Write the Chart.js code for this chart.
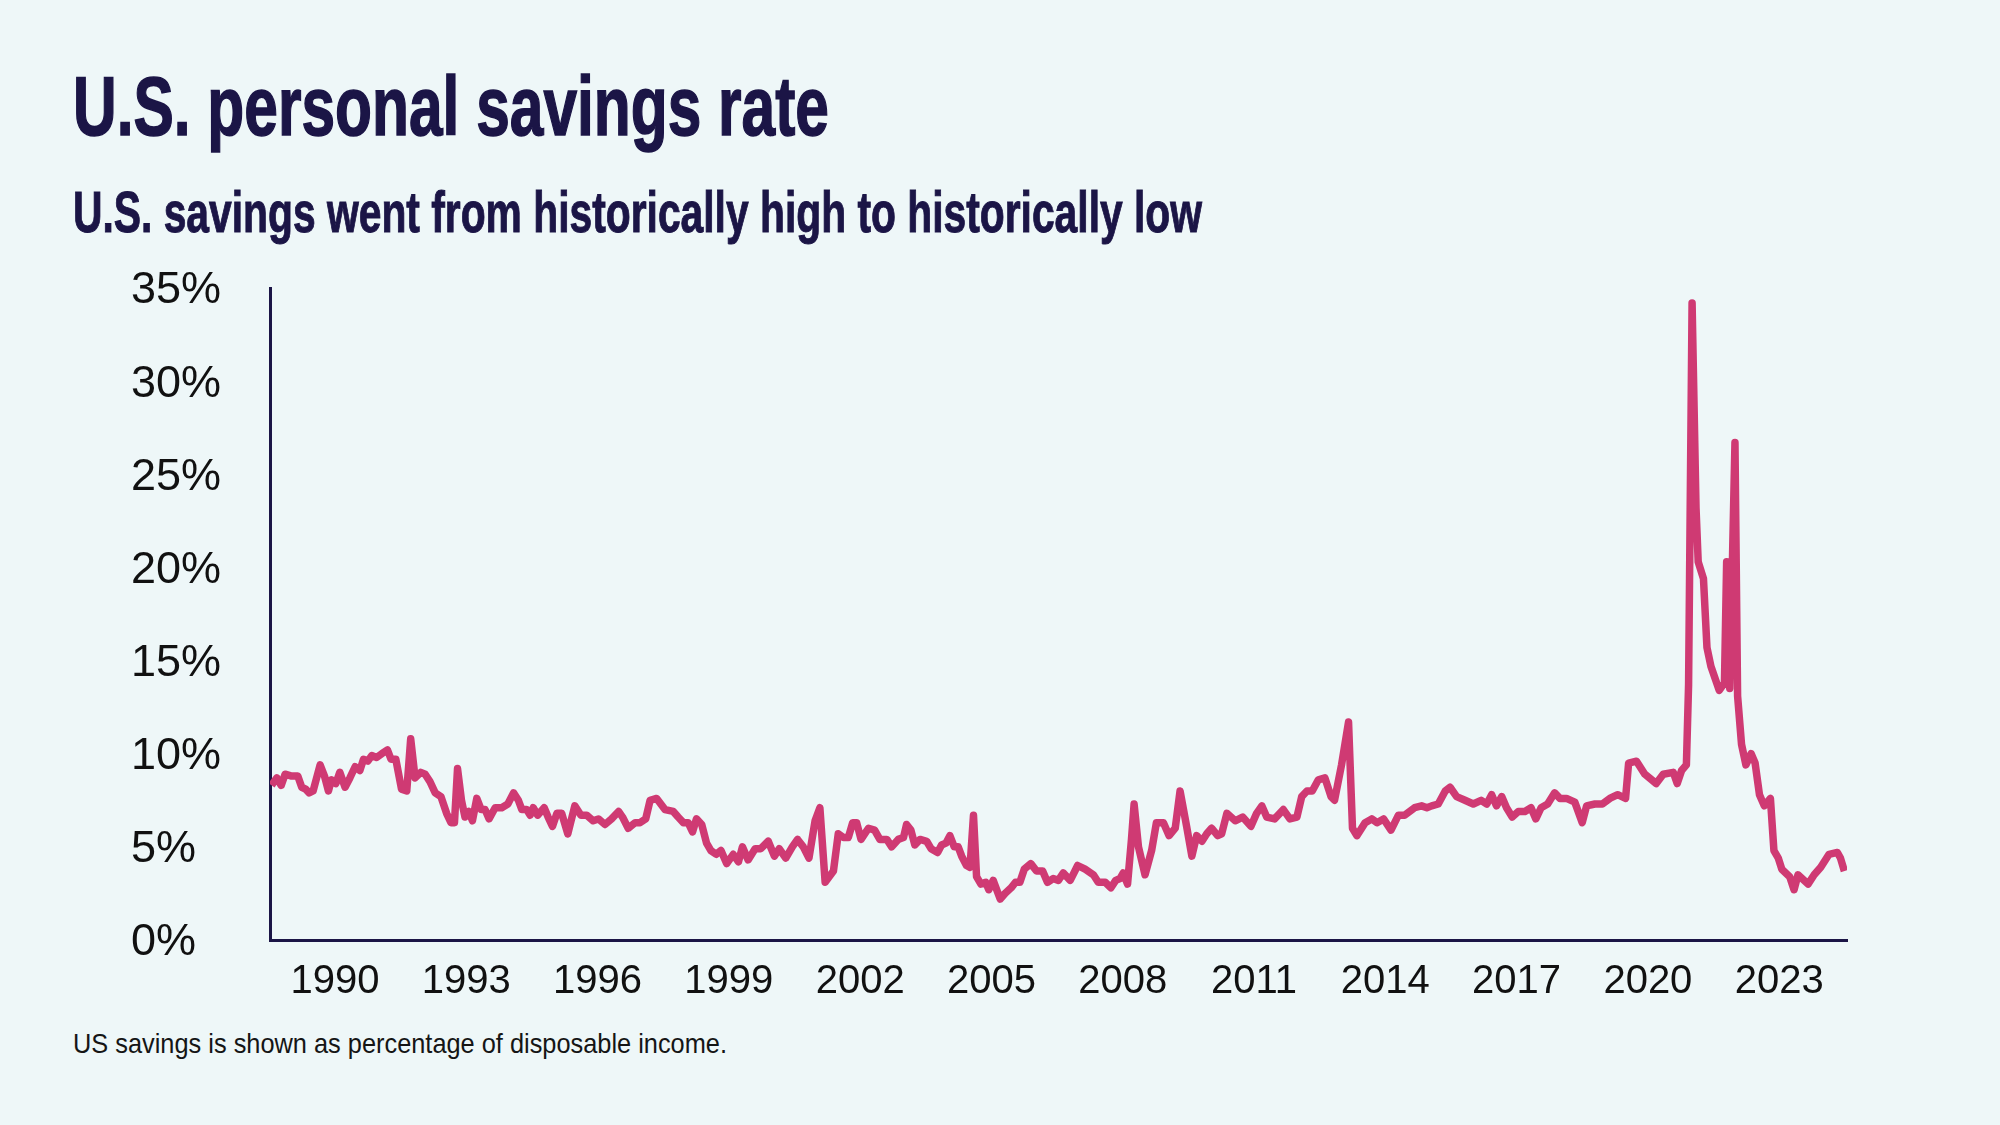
<!DOCTYPE html>
<html>
<head>
<meta charset="utf-8">
<title>U.S. personal savings rate</title>
<script src="https://cdn.jsdelivr.net/npm/chart.js@4.4.1/dist/chart.umd.min.js"></script>
<style>
  html, body { margin: 0; padding: 0; }
  body { width: 2000px; height: 1125px; background: #eef7f8; position: relative; overflow: hidden; }
  .txt { position: absolute; left: 73px; margin: 0; white-space: nowrap; display: inline-block; line-height: 1; transform-origin: left top; }
  #title { top: 58px; font: bold 84px "Liberation Sans Narrow", "Liberation Sans", sans-serif; color: #1b1546; -webkit-text-stroke: 1.5px #1b1546; }
  #subtitle { top: 179px; font: bold 57px "Liberation Sans Narrow", "Liberation Sans", sans-serif; color: #1b1546; -webkit-text-stroke: 1px #1b1546; }
  #note { top: 1028px; font: 28px "Liberation Sans Narrow", "Liberation Sans", sans-serif; color: #151515; }
  #chart { position: absolute; left: 0; top: 250px; }
</style>
</head>
<body>
<h1 class="txt" id="title">U.S. personal savings rate</h1>
<h2 class="txt" id="subtitle">U.S. savings went from historically high to historically low</h2>
<div class="txt" id="note">US savings is shown as percentage of disposable income.</div>
<canvas id="chart" width="2000" height="770"></canvas>
<script>
// dates as decimal years
const dates = [
  1988.55, 1988.67, 1988.77, 1988.86, 1989.01, 1989.15, 1989.24, 1989.33, 1989.41, 1989.50,
  1989.66, 1989.76, 1989.85, 1989.92, 1990.02, 1990.11, 1990.23, 1990.34, 1990.46, 1990.57,
  1990.65, 1990.75, 1990.84, 1990.95, 1991.07, 1991.20, 1991.28, 1991.39, 1991.52, 1991.64,
  1991.73, 1991.83, 1991.96, 1992.06, 1992.17, 1992.29, 1992.42, 1992.55, 1992.65, 1992.73,
  1992.80, 1992.89, 1992.97, 1993.06, 1993.14, 1993.24, 1993.34, 1993.43, 1993.52, 1993.66,
  1993.81, 1993.95, 1994.08, 1994.19, 1994.27, 1994.38, 1994.46, 1994.53, 1994.63, 1994.78,
  1994.87, 1994.97, 1995.07, 1995.18, 1995.32, 1995.48, 1995.62, 1995.75, 1995.90, 1996.02,
  1996.17, 1996.32, 1996.48, 1996.57, 1996.70, 1996.86, 1996.97, 1997.10, 1997.20, 1997.35,
  1997.54, 1997.73, 1997.84, 1997.96, 1998.07, 1998.17, 1998.26, 1998.38, 1998.49, 1998.59,
  1998.71, 1998.82, 1998.95, 1999.10, 1999.22, 1999.31, 1999.44, 1999.60, 1999.73, 1999.90,
  2000.04, 2000.15, 2000.30, 2000.45, 2000.57, 2000.70, 2000.83, 2000.97, 2001.08, 2001.20,
  2001.39, 2001.50, 2001.62, 2001.73, 2001.83, 2001.92, 2002.02, 2002.19, 2002.33, 2002.45,
  2002.61, 2002.72, 2002.87, 2002.99, 2003.06, 2003.16, 2003.25, 2003.37, 2003.52, 2003.62,
  2003.77, 2003.86, 2003.96, 2004.05, 2004.15, 2004.24, 2004.32, 2004.43, 2004.51, 2004.59,
  2004.66, 2004.76, 2004.87, 2004.94, 2005.04, 2005.20, 2005.31, 2005.45, 2005.55, 2005.65,
  2005.75, 2005.90, 2006.03, 2006.17, 2006.28, 2006.41, 2006.53, 2006.64, 2006.80, 2006.97,
  2007.14, 2007.33, 2007.44, 2007.60, 2007.73, 2007.84, 2007.94, 2008.01, 2008.11, 2008.20,
  2008.26, 2008.36, 2008.51, 2008.66, 2008.77, 2008.93, 2009.06, 2009.20, 2009.31, 2009.46,
  2009.58, 2009.69, 2009.81, 2009.92, 2010.03, 2010.17, 2010.26, 2010.38, 2010.57, 2010.74,
  2010.93, 2011.06, 2011.18, 2011.29, 2011.47, 2011.67, 2011.82, 2011.98, 2012.09, 2012.21,
  2012.33, 2012.47, 2012.62, 2012.76, 2012.84, 2013.00, 2013.16, 2013.25, 2013.35, 2013.54,
  2013.69, 2013.81, 2013.96, 2014.13, 2014.30, 2014.44, 2014.67, 2014.83, 2014.95, 2015.06,
  2015.21, 2015.37, 2015.48, 2015.63, 2015.82, 2016.01, 2016.19, 2016.32, 2016.43, 2016.54,
  2016.66, 2016.77, 2016.90, 2017.04, 2017.19, 2017.33, 2017.44, 2017.56, 2017.71, 2017.87,
  2017.99, 2018.14, 2018.33, 2018.50, 2018.60, 2018.79, 2018.96, 2019.13, 2019.31, 2019.49,
  2019.56, 2019.74, 2019.93, 2020.19, 2020.35, 2020.58, 2020.67, 2020.77, 2020.88, 2020.93,
  2021.01, 2021.10, 2021.15, 2021.27, 2021.35, 2021.44, 2021.63, 2021.75, 2021.80, 2021.87,
  2021.99, 2022.05, 2022.14, 2022.24, 2022.36, 2022.45, 2022.55, 2022.66, 2022.80, 2022.88,
  2022.98, 2023.06, 2023.24, 2023.34, 2023.43, 2023.66, 2023.80, 2023.95, 2024.14, 2024.33,
  2024.40, 2024.49
];

// savings rate, % of disposable income
const savingsRate = [
  8.3, 8.7, 8.3, 8.9, 8.8, 8.8, 8.2, 8.1, 7.9, 8.0,
  9.4, 8.8, 8.0, 8.6, 8.4, 9.0, 8.2, 8.7, 9.3, 9.1,
  9.7, 9.6, 9.9, 9.8, 10.0, 10.2, 9.7, 9.7, 8.1, 8.0,
  10.8, 8.7, 9.0, 8.9, 8.5, 7.9, 7.7, 6.8, 6.3, 6.3,
  9.2, 7.5, 6.6, 6.9, 6.4, 7.6, 7.0, 7.0, 6.5, 7.1,
  7.1, 7.3, 7.9, 7.5, 7.0, 7.0, 6.7, 7.1, 6.7, 7.1,
  6.6, 6.1, 6.8, 6.8, 5.7, 7.2, 6.7, 6.7, 6.4, 6.5,
  6.2, 6.5, 6.9, 6.6, 6.0, 6.3, 6.3, 6.5, 7.5, 7.6,
  7.0, 6.9, 6.6, 6.3, 6.3, 5.8, 6.5, 6.2, 5.2, 4.8,
  4.6, 4.8, 4.1, 4.6, 4.2, 5.0, 4.3, 4.9, 4.9, 5.3,
  4.5, 4.9, 4.4, 5.0, 5.4, 5.0, 4.4, 6.4, 7.1, 3.1,
  3.7, 5.7, 5.5, 5.5, 6.3, 6.3, 5.4, 6.0, 5.9, 5.4,
  5.4, 5.0, 5.4, 5.5, 6.2, 5.9, 5.1, 5.4, 5.3, 4.9,
  4.7, 5.1, 5.2, 5.6, 5.0, 5.0, 4.5, 4.0, 3.9, 6.7,
  3.4, 3.0, 3.1, 2.7, 3.2, 2.2, 2.5, 2.8, 3.1, 3.1,
  3.8, 4.1, 3.7, 3.7, 3.1, 3.3, 3.2, 3.6, 3.2, 4.0,
  3.8, 3.5, 3.1, 3.1, 2.8, 3.2, 3.3, 3.6, 3.0, 5.4,
  7.3, 5.0, 3.5, 4.8, 6.3, 6.3, 5.6, 6.0, 8.0, 6.1,
  4.5, 5.6, 5.3, 5.7, 6.0, 5.6, 5.7, 6.8, 6.4, 6.6,
  6.1, 6.8, 7.2, 6.6, 6.5, 7.0, 6.5, 6.6, 7.7, 8.0,
  8.0, 8.6, 8.7, 7.7, 7.5, 9.4, 11.7, 6.0, 5.6, 6.3,
  6.5, 6.3, 6.5, 5.9, 6.7, 6.7, 7.1, 7.2, 7.1, 7.2,
  7.3, 8.0, 8.2, 7.7, 7.5, 7.3, 7.5, 7.3, 7.8, 7.2,
  7.7, 7.1, 6.6, 6.9, 6.9, 7.1, 6.5, 7.1, 7.3, 7.9,
  7.6, 7.6, 7.4, 6.3, 7.2, 7.3, 7.3, 7.6, 7.8, 7.6,
  9.5, 9.6, 8.9, 8.4, 8.9, 9.0, 8.4, 9.1, 9.4, 13.7,
  34.2, 23.2, 20.3, 19.4, 15.7, 14.7, 13.4, 13.8, 20.3, 13.5,
  26.7, 13.1, 10.5, 9.4, 10.0, 9.5, 7.8, 7.2, 7.6, 4.8,
  4.4, 3.8, 3.4, 2.7, 3.5, 3.0, 3.5, 3.9, 4.6, 4.7,
  4.4, 3.7
];

const yearTicks = [1990, 1993, 1996, 1999, 2002, 2005, 2008, 2011, 2014, 2017, 2020, 2023];
const rateTicks = [0, 5, 10, 15, 20, 25, 30, 35];

const navy = '#1b1546';
const pink = '#cf3a73';

// squeeze the condensed headings to the reference widths
function fitWidth(id, target) {
    const el = document.getElementById(id);
    const w = el.getBoundingClientRect().width;
    el.style.transform = 'scaleX(' + (target / w) + ')';
}
fitWidth('title', 756);
fitWidth('subtitle', 1129);
fitWidth('note', 654);

const points = dates.map((d, i) => ({ x: d, y: savingsRate[i] }));

const ctx = document.getElementById('chart').getContext('2d');
new Chart(ctx, {
    type: 'line',
    data: {
        datasets: [{
            label: 'Personal savings rate',
            data: points,
            borderColor: pink,
            borderWidth: 7.5,
            borderJoinStyle: 'round',
            pointRadius: 0,
            tension: 0,
            fill: false
        }]
    },
    options: {
        responsive: false,
        animation: false,
        layout: { padding: { left: 131, right: 153, top: 38, bottom: 0 } },
        plugins: {
            legend: { display: false },
            tooltip: { enabled: false }
        },
        scales: {
            x: {
                type: 'linear',
                min: 1988.515,
                max: 2024.55,
                grid: { display: false, drawTicks: false },
                border: { display: true, color: navy, width: 3 },
                afterBuildTicks: axis => { axis.ticks = yearTicks.map(v => ({ value: v })); },
                afterFit: axis => { axis.height = 80; },
                ticks: {
                    padding: 18,
                    maxRotation: 0,
                    autoSkip: false,
                    color: '#111111',
                    font: { family: '"Liberation Sans", Arial, sans-serif', size: 40 },
                    callback: value => String(value)
                }
            },
            y: {
                min: 0,
                max: 35,
                grid: { display: false, drawTicks: false },
                border: { display: true, color: navy, width: 3 },
                afterBuildTicks: axis => { axis.ticks = rateTicks.map(v => ({ value: v })); },
                afterFit: axis => { axis.width = 139; },
                ticks: {
                    crossAlign: 'far',
                    labelOffset: 3,
                    color: '#111111',
                    font: { family: '"Liberation Sans", Arial, sans-serif', size: 45 },
                    callback: value => value + '%'
                }
            }
        }
    }
});
</script>
</body>
</html>
